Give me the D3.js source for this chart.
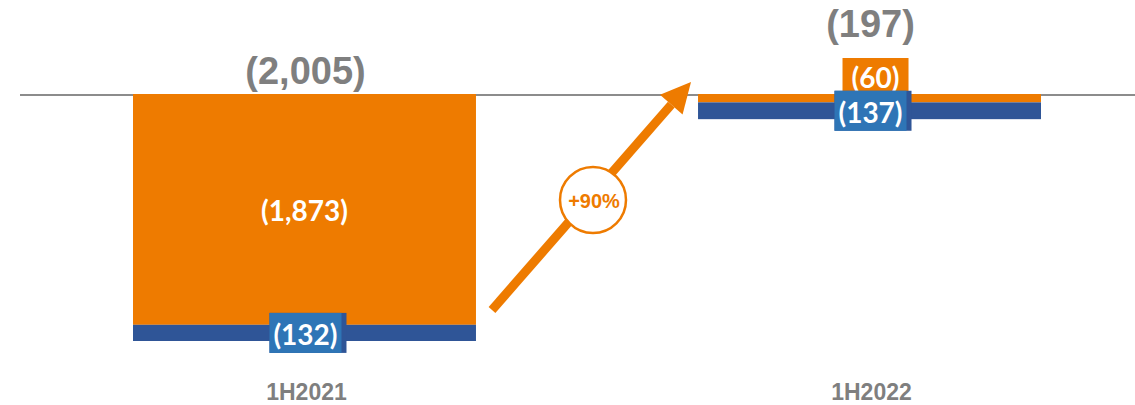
<!DOCTYPE html>
<html>
<head>
<meta charset="utf-8">
<script src="https://cdn.jsdelivr.net/npm/d3@7"></script>
<style>
  body { margin: 0; background: #fff; }
  svg { display: block; }
</style>
</head>
<body>
<script>
var width = 1135;
var height = 405;

// data
var categories = ["1H2021", "1H2022"];
var orangeValues = [-1873, -60];
var blueValues = [-132, -137];
var totals = [-2005, -197];
var orangeLabels = ["(1,873)", "(60)"];
var blueLabels = ["(132)", "(137)"];
var totalLabels = ["(2,005)", "(197)"];
var growthLabel = "+90%";

var orange = "#ee7b00";
var darkBlue = "#2f5597";
var lightBlue = "#2e75b6";
var grey = "#7f7f7f";

var svg = d3.select("body").append("svg")
  .attr("width", width)
  .attr("height", height);

var x = d3.scaleBand()
  .domain(categories)
  .range([20, 1154])
  .paddingInner(0.393)
  .paddingOuter(0.2);

var y = d3.scaleLinear()
  .domain([0, -2005])
  .range([95, 341]);

// zero line
svg.append("line")
  .attr("x1", 20).attr("x2", width)
  .attr("y1", y(0)).attr("y2", y(0))
  .attr("stroke", "#8c8c8c")
  .attr("stroke-width", 2);

// stacked bars
var stacks = categories.map(function(c, i) {
  return { cat: c, o: orangeValues[i], b: blueValues[i], i: i };
});

svg.selectAll("rect.orange")
  .data(stacks)
  .enter().append("rect")
    .attr("class", "orange")
    .attr("x", function(d) { return x(d.cat); })
    .attr("y", y(0) - 1)
    .attr("width", x.bandwidth())
    .attr("height", function(d) { return y(d.o) - y(0) + 1; })
    .attr("fill", orange);

svg.selectAll("rect.blue")
  .data(stacks)
  .enter().append("rect")
    .attr("class", "blue")
    .attr("x", function(d) { return x(d.cat); })
    .attr("y", function(d) { return y(d.o); })
    .attr("width", x.bandwidth())
    .attr("height", function(d) { return y(d.o + d.b) - y(d.o); })
    .attr("fill", darkBlue);

var cx = function(d) { return x(d.cat) + x.bandwidth() / 2; };
var whiteFont = "Lato, 'Open Sans', sans-serif";
var whiteSize = 28;

// orange labels: inside big bar, boxed above the thin one
stacks.forEach(function(d) {
  var c = cx(d);
  if (d.i === 0) {
    svg.append("text")
      .attr("x", c).attr("y", (y(0) + y(d.o)) / 2)
      .attr("text-anchor", "middle")
      .attr("dominant-baseline", "central")
      .attr("font-family", whiteFont)
      .attr("font-weight", "bold")
      .attr("font-size", whiteSize)
      .attr("fill", "#fff")
      .text(orangeLabels[d.i]);
  } else {
    svg.append("rect")
      .attr("x", c - 27).attr("y", y(0) - 37)
      .attr("width", 66).attr("height", 36)
      .attr("fill", orange);
    svg.append("text")
      .attr("x", c + 6).attr("y", y(0) - 18)
      .attr("text-anchor", "middle")
      .attr("dominant-baseline", "central")
      .attr("font-family", whiteFont)
      .attr("font-weight", "bold")
      .attr("font-size", whiteSize)
      .attr("fill", "#fff")
      .text(orangeLabels[d.i]);
  }
});

// blue labels in boxes
stacks.forEach(function(d) {
  var c = cx(d);
  var my = (y(d.o) + y(d.o + d.b)) / 2;
  svg.append("rect")
    .attr("x", c - 35).attr("y", my - 20)
    .attr("width", 77).attr("height", 40)
    .attr("fill", darkBlue);
  svg.append("rect")
    .attr("x", c - 35).attr("y", my - 20)
    .attr("width", 72).attr("height", 40)
    .attr("fill", lightBlue);
  svg.append("text")
    .attr("x", c + 1).attr("y", my + 1)
    .attr("text-anchor", "middle")
    .attr("dominant-baseline", "central")
    .attr("font-family", whiteFont)
    .attr("font-weight", "bold")
    .attr("font-size", whiteSize)
    .attr("fill", "#fff")
    .text(blueLabels[d.i]);
});

// totals
svg.selectAll("text.total")
  .data(stacks)
  .enter().append("text")
    .attr("class", "total")
    .attr("x", function(d) { return cx(d) + 1; })
    .attr("y", function(d) { return d.i === 0 ? y(0) - 11 : 37; })
    .attr("text-anchor", "middle")
    .attr("font-family", "'Liberation Sans', Arial, sans-serif")
    .attr("font-weight", "bold")
    .attr("font-size", 38)
    .attr("fill", grey)
    .text(function(d) { return totalLabels[d.i]; });

// category labels
svg.selectAll("text.cat")
  .data(categories)
  .enter().append("text")
    .attr("class", "cat")
    .attr("x", function(d) { return x(d) + x.bandwidth() / 2 + 2; })
    .attr("y", 400)
    .attr("text-anchor", "middle")
    .attr("font-family", "'Liberation Sans', Arial, sans-serif")
    .attr("font-weight", "bold")
    .attr("font-size", 23)
    .attr("fill", grey)
    .text(function(d) { return d; });

// growth arrow
var x0 = 492, y0 = 310, x1 = 691, y1 = 82;
var ang = Math.atan2(y1 - y0, x1 - x0);
var headLen = 30, headW = 15;
var bx = x1 - headLen * Math.cos(ang), by = y1 - headLen * Math.sin(ang);
var px = -Math.sin(ang), py = Math.cos(ang);

svg.append("line")
  .attr("x1", x0).attr("y1", y0)
  .attr("x2", bx).attr("y2", by)
  .attr("stroke", orange)
  .attr("stroke-width", 9);

svg.append("path")
  .attr("d", "M" + x1 + "," + y1 +
    "L" + (bx + px * headW) + "," + (by + py * headW) +
    "L" + (bx - px * headW) + "," + (by - py * headW) + "Z")
  .attr("fill", orange);

svg.append("circle")
  .attr("cx", 593).attr("cy", 200).attr("r", 33)
  .attr("fill", "#fff")
  .attr("stroke", orange)
  .attr("stroke-width", 2.5);

svg.append("text")
  .attr("x", 594).attr("y", 201)
  .attr("text-anchor", "middle")
  .attr("dominant-baseline", "central")
  .attr("font-family", "'Liberation Sans', Arial, sans-serif")
  .attr("font-weight", "bold")
  .attr("font-size", 20)
  .attr("fill", orange)
  .text(growthLabel);
</script>
</body>
</html>
